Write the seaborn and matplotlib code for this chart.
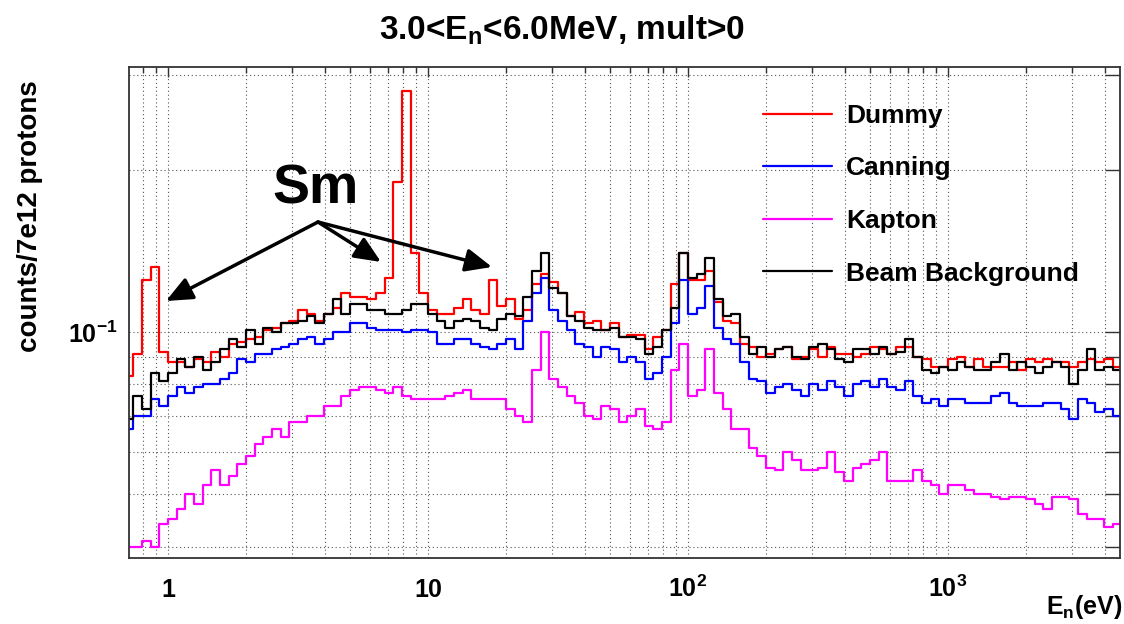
import numpy as np
import pandas as pd
import matplotlib
matplotlib.use("Agg")
import matplotlib.pyplot as plt
from matplotlib.lines import Line2D
from matplotlib.ticker import FixedLocator, FixedFormatter, NullFormatter
import seaborn as sns

sns.set_style("white")
plt.rcParams.update({
    "font.family": ["Liberation Sans", "DejaVu Sans"],
    "font.weight": "bold",
    "text.color": "black",
    "axes.labelcolor": "black",
    "xtick.color": "black",
    "ytick.color": "black",
    "mathtext.fontset": "custom",
    "mathtext.rm": "Liberation Sans:bold",
    "mathtext.it": "Liberation Sans:bold",
    "mathtext.bf": "Liberation Sans:bold",
    "mathtext.sf": "Liberation Sans:bold",
})

# ---------------- data (log-binned histogram, 30 bins per decade) ----------------
bins_per_decade = 30
first_bin = -5          # first edge = 10**(-5/30) eV

names = ["Dummy", "Canning", "Kapton", "Beam Background"]
colors = ["#ff0000", "#0000ff", "#ff00ff", "#000000"]

dummy = [0.083, 0.091, 0.125, 0.132, 0.092, 0.088, 0.088, 0.086, 0.089, 0.088,
         0.092, 0.090, 0.095, 0.096, 0.097, 0.098, 0.101, 0.102, 0.104, 0.105,
         0.110, 0.108, 0.105, 0.108, 0.111, 0.118, 0.116, 0.116, 0.115, 0.118,
         0.126, 0.190, 0.280, 0.140, 0.118, 0.110, 0.108, 0.108, 0.111, 0.115,
         0.110, 0.108, 0.125, 0.112, 0.115, 0.106, 0.110, 0.123, 0.128, 0.124,
         0.118, 0.107, 0.109, 0.104, 0.105, 0.101, 0.104, 0.098, 0.099, 0.099,
         0.093, 0.098, 0.101, 0.123, 0.140, 0.125, 0.125, 0.130, 0.114, 0.105,
         0.104, 0.095, 0.094, 0.090, 0.091, 0.093, 0.094, 0.089, 0.090, 0.093,
         0.090, 0.094, 0.091, 0.091, 0.090, 0.091, 0.094, 0.093, 0.091, 0.094,
         0.094, 0.090, 0.089, 0.086, 0.086, 0.089, 0.090, 0.086, 0.089, 0.086,
         0.086, 0.086, 0.088, 0.085, 0.089, 0.088, 0.089, 0.088, 0.088, 0.086,
         0.088, 0.089, 0.088, 0.089, 0.086]

canning = [0.066, 0.070, 0.070, 0.075, 0.073, 0.076, 0.079, 0.077, 0.079, 0.080,
           0.080, 0.082, 0.084, 0.089, 0.088, 0.091, 0.091, 0.093, 0.094, 0.095,
           0.097, 0.098, 0.095, 0.097, 0.100, 0.100, 0.104, 0.104, 0.102, 0.101,
           0.101, 0.101, 0.100, 0.101, 0.101, 0.100, 0.095, 0.095, 0.097, 0.097,
           0.095, 0.094, 0.093, 0.095, 0.097, 0.093, 0.105, 0.118, 0.126, 0.110,
           0.105, 0.101, 0.095, 0.094, 0.090, 0.094, 0.093, 0.088, 0.090, 0.088,
           0.082, 0.084, 0.090, 0.104, 0.125, 0.108, 0.111, 0.122, 0.102, 0.097,
           0.095, 0.088, 0.082, 0.081, 0.077, 0.079, 0.080, 0.078, 0.076, 0.080,
           0.078, 0.081, 0.079, 0.076, 0.080, 0.081, 0.079, 0.082, 0.079, 0.078,
           0.081, 0.076, 0.074, 0.075, 0.073, 0.075, 0.075, 0.074, 0.074, 0.074,
           0.076, 0.077, 0.074, 0.073, 0.073, 0.073, 0.074, 0.074, 0.072, 0.069,
           0.075, 0.074, 0.071, 0.072, 0.070]

kapton = [0.040, 0.040, 0.041, 0.040, 0.044, 0.045, 0.047, 0.050, 0.048, 0.052,
          0.0555, 0.052, 0.054, 0.057, 0.059, 0.062, 0.064, 0.066, 0.064, 0.068,
          0.068, 0.070, 0.070, 0.073, 0.073, 0.076, 0.078, 0.079, 0.079, 0.078,
          0.077, 0.079, 0.076, 0.075, 0.075, 0.075, 0.075, 0.076, 0.077, 0.078,
          0.075, 0.075, 0.075, 0.075, 0.072, 0.070, 0.068, 0.085, 0.100, 0.082,
          0.079, 0.076, 0.074, 0.070, 0.069, 0.073, 0.072, 0.068, 0.070, 0.072,
          0.067, 0.066, 0.068, 0.085, 0.095, 0.076, 0.078, 0.093, 0.077, 0.072,
          0.066, 0.066, 0.061, 0.059, 0.056, 0.0555, 0.060, 0.058, 0.0555, 0.0555,
          0.056, 0.060, 0.055, 0.053, 0.056, 0.057, 0.058, 0.060, 0.053, 0.053,
          0.053, 0.0555, 0.053, 0.052, 0.050, 0.052, 0.052, 0.051, 0.050, 0.050,
          0.0495, 0.049, 0.0495, 0.0495, 0.049, 0.048, 0.047, 0.0495, 0.0495, 0.049,
          0.046, 0.045, 0.045, 0.0435, 0.044]

beam_bkg = [0.069, 0.076, 0.072, 0.084, 0.081, 0.084, 0.089, 0.086, 0.090, 0.085,
            0.088, 0.093, 0.097, 0.094, 0.101, 0.095, 0.102, 0.100, 0.104, 0.104,
            0.105, 0.107, 0.104, 0.108, 0.115, 0.108, 0.113, 0.113, 0.110, 0.110,
            0.108, 0.108, 0.110, 0.113, 0.113, 0.108, 0.105, 0.102, 0.105, 0.106,
            0.105, 0.102, 0.101, 0.106, 0.108, 0.107, 0.116, 0.130, 0.140, 0.121,
            0.118, 0.107, 0.105, 0.102, 0.101, 0.101, 0.102, 0.098, 0.098, 0.097,
            0.091, 0.094, 0.101, 0.111, 0.140, 0.126, 0.128, 0.137, 0.115, 0.107,
            0.108, 0.098, 0.091, 0.094, 0.090, 0.093, 0.094, 0.090, 0.089, 0.094,
            0.095, 0.093, 0.089, 0.088, 0.093, 0.093, 0.091, 0.094, 0.091, 0.092,
            0.097, 0.090, 0.085, 0.084, 0.086, 0.085, 0.088, 0.086, 0.085, 0.085,
            0.088, 0.091, 0.085, 0.088, 0.086, 0.084, 0.086, 0.088, 0.086, 0.080,
            0.085, 0.093, 0.085, 0.086, 0.085]

series = [dummy, canning, kapton, beam_bkg]

x_major = [1, 10, 100, 1000]
x_major_labels = ["1", "10", "$10^{2}$", "$10^{3}$"]
y_major = [0.1]
y_major_labels = ["$10^{-1}$"]
y_minor = [0.04, 0.05, 0.06, 0.07, 0.08, 0.09, 0.2, 0.3]

# ---------------- build long table ----------------
edges = 10.0 ** (np.arange(first_bin, first_bin + len(dummy) + 1) / bins_per_decade)
frames = []
for name, vals in zip(names, series):
    frames.append(pd.DataFrame({"E": edges,
                                "counts": np.append(vals, vals[-1]),
                                "sample": name}))
df = pd.concat(frames, ignore_index=True)

# ---------------- figure ----------------
W, H = 1124, 624
fig = plt.figure(figsize=(W / 100, H / 100), dpi=100)
ax = fig.add_axes([129 / W, 1 - 558 / H, 991 / W, 491 / H])
ax.set_xscale("log")
ax.set_yscale("log")

sns.lineplot(data=df, x="E", y="counts", hue="sample", hue_order=names,
             palette=dict(zip(names, colors)), drawstyle="steps-post",
             estimator=None, sort=False, linewidth=1.6, legend=False, ax=ax)

ax.set_xlim(0.708, 4586)
ax.set_ylim(0.0381, 0.3105)
ax.set_xlabel("")
ax.set_ylabel("")

# ticks
x_minor = [m * 10.0 ** d for d in range(-1, 4) for m in range(2, 10)]
ax.xaxis.set_major_locator(FixedLocator(x_major))
ax.xaxis.set_major_formatter(FixedFormatter(x_major_labels))
ax.xaxis.set_minor_locator(FixedLocator(x_minor))
ax.xaxis.set_minor_formatter(NullFormatter())
ax.yaxis.set_major_locator(FixedLocator(y_major))
ax.yaxis.set_major_formatter(FixedFormatter(y_major_labels))
ax.yaxis.set_minor_locator(FixedLocator(y_minor))
ax.yaxis.set_minor_formatter(NullFormatter())

ax.tick_params(which="both", direction="in", top=True, right=True,
               color="#333333", width=1.0, labelcolor="black")
ax.tick_params(axis="x", which="major", length=7, labelsize=18, pad=28)
ax.tick_params(axis="x", which="minor", length=4.5)
ax.tick_params(axis="y", which="both", length=11, labelsize=18, pad=8)
for lab in ax.get_xticklabels():
    lab.set_va("baseline")

ax.grid(True, which="both", linestyle=(0, (1, 2.5)), color="#555555", linewidth=0.8)
ax.set_axisbelow(True)
for s in ax.spines.values():
    s.set_linewidth(1.3)
    s.set_color("#333333")

# legend
handles = [Line2D([], [], color=c, lw=1.6) for c in colors]
leg = ax.legend(handles, names, loc="upper left", bbox_to_anchor=(763 / W, 1 - 104 / H),
                bbox_transform=fig.transFigure, frameon=False, fontsize=19,
                handlelength=2.6, handletextpad=0.55, labelspacing=1.08,
                borderpad=0, borderaxespad=0)
for t in leg.get_texts():
    t.set_color("black")

# annotation
ax.text(0.1887, 0.7495, "Sm", transform=ax.transAxes, ha="center", va="center",
        fontsize=40, fontweight="bold", color="black")
tail = (0.1907, 0.6843)
for head in [(0.0373, 0.5234), (0.2543, 0.6029), (0.3663, 0.5927)]:
    ax.annotate("", xy=head, xytext=tail, xycoords="axes fraction",
                textcoords="axes fraction",
                arrowprops=dict(arrowstyle="-|>,head_length=0.8,head_width=0.35",
                                color="black", lw=2.5, shrinkA=0, shrinkB=0,
                                mutation_scale=20))

# texts
fig.text(562 / W, 1 - 40 / H, "3.0<E$_{n}$<6.0MeV, mult>0", ha="center",
         va="baseline", fontsize=24, fontweight="bold", color="black")
fig.text(30 / W, 1 - 80 / H, "counts/7e12 protons", rotation=90, ha="center",
         va="top", fontsize=20, fontweight="bold", color="black")
fig.text(1122 / W, 1 - 614 / H, "E$_{n}$(eV)", ha="right", va="baseline",
         fontsize=18, fontweight="bold", color="black")

fig.savefig("out.png", dpi=100)
